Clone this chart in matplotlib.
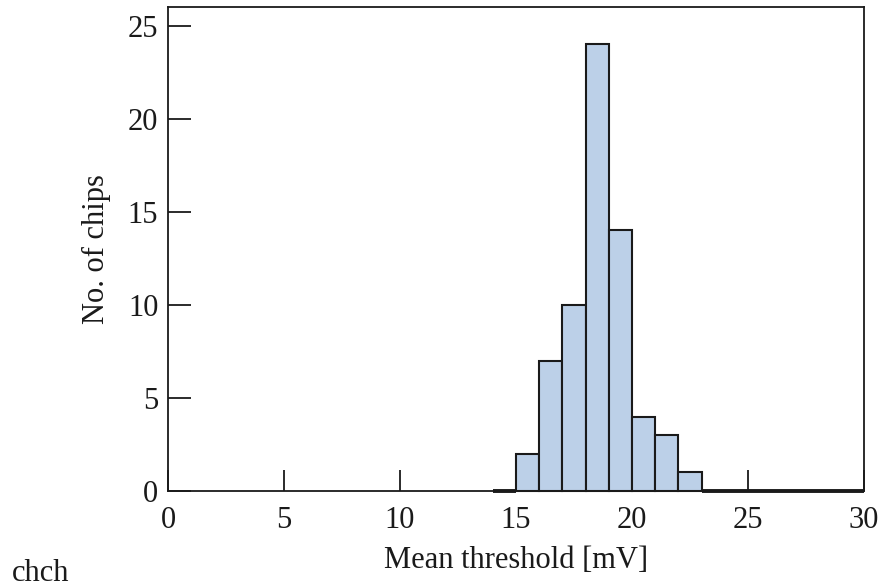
import matplotlib
matplotlib.use("Agg")
import matplotlib.pyplot as plt

bin_left = [14, 15, 16, 17, 18, 19, 20, 21, 22, 23, 24, 25, 26, 27, 28, 29]
counts = [0, 2, 7, 10, 24, 14, 4, 3, 1, 0, 0, 0, 0, 0, 0, 0]
xticks = [0, 5, 10, 15, 20, 25, 30]
yticks = [0, 5, 10, 15, 20, 25]

plt.rcParams['font.family'] = ['Liberation Serif', 'DejaVu Serif']
fig = plt.figure(figsize=(8.85, 5.87), dpi=100)
ax = fig.add_axes([168/885, 1-491/587, (864-168)/885, (491-7)/587])

lws = [2.8 if c == 0 else 1.5 for c in counts]
ax.bar(bin_left, counts, width=1, align='edge', color='#bcd0e8',
       edgecolor='#1a1a1a', linewidth=lws, zorder=2, clip_on=False)

ax.set_xlim(0, 30)
ax.set_ylim(0, 26.0)
ax.set_xticks(xticks)
ax.set_yticks(yticks)
ax.tick_params(direction='in', length=16.5, width=1.3, labelsize=22, colors='#1a1a1a')
ax.tick_params(axis='x', length=15, pad=11)
ax.tick_params(axis='y', pad=7)
for s in ax.spines.values():
    s.set_linewidth(1.3)
    s.set_color('#1a1a1a')

ax.set_xlabel('Mean threshold [mV]', fontsize=22, color='#1a1a1a', labelpad=8)
ax.set_ylabel('No. of chips', fontsize=22, color='#1a1a1a', labelpad=12)
fig.text(0.013, 0.010, 'chch', fontsize=22, color='#1a1a1a')

fig.savefig('out.png', dpi=100, facecolor='white')
